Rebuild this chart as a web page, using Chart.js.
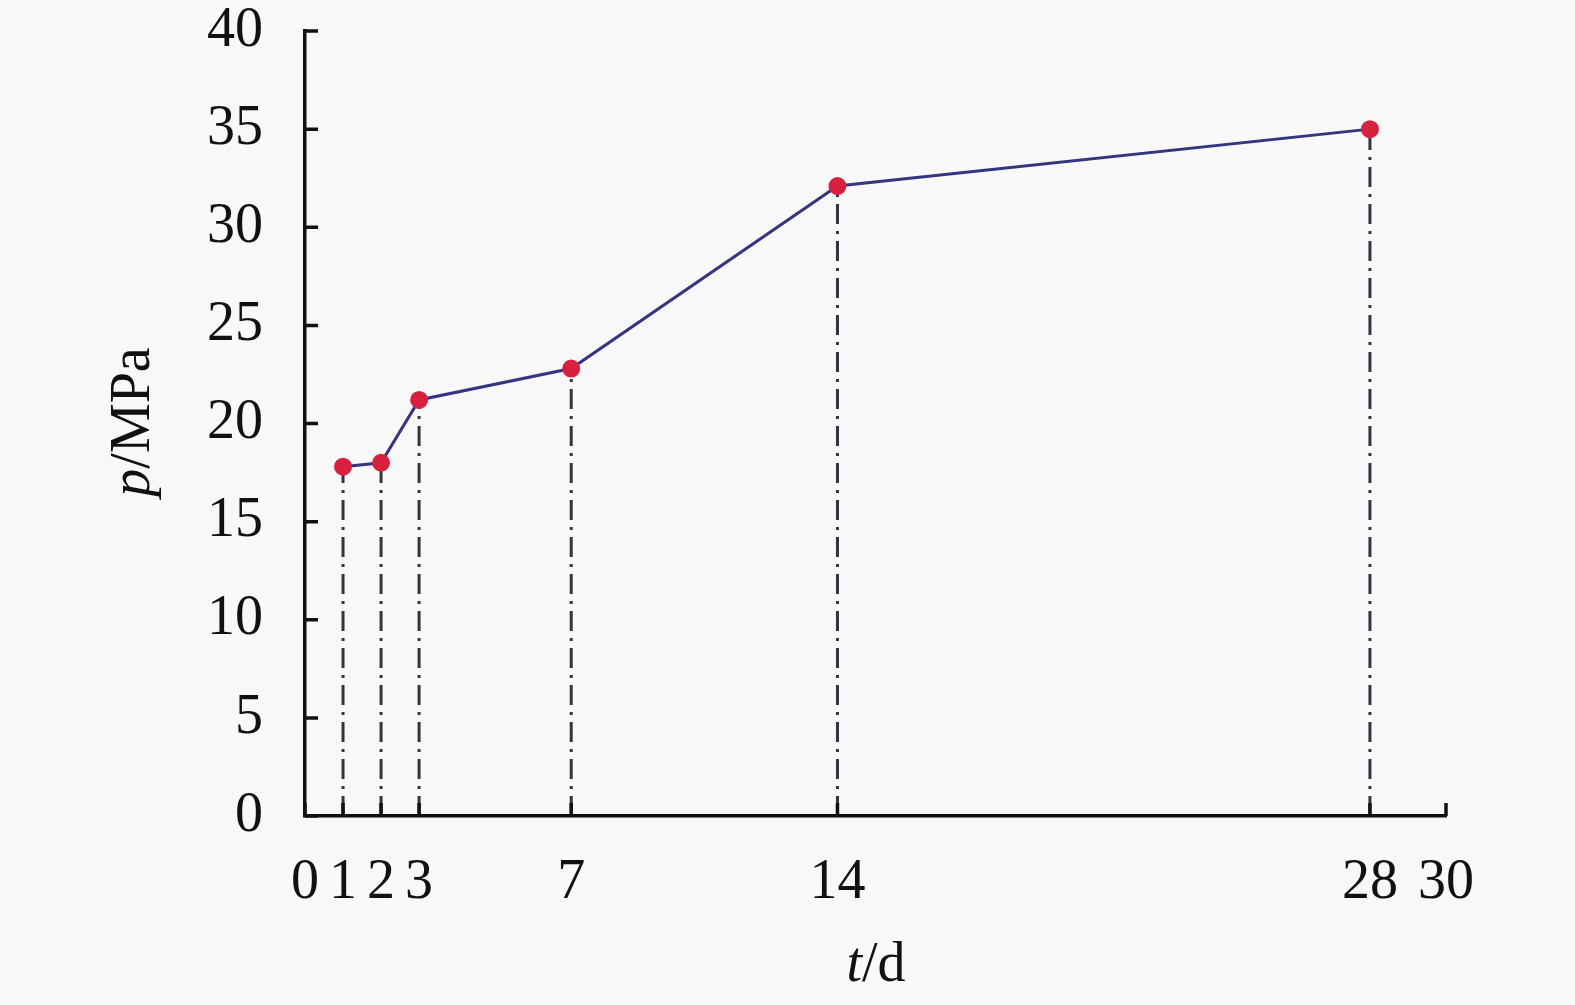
<!DOCTYPE html>
<html>
<head>
<meta charset="utf-8">
<script src="https://cdn.jsdelivr.net/npm/chart.js@4.4.1/dist/chart.umd.min.js"></script>
<style>
  html, body { margin: 0; padding: 0; background: #f8f8f8; }
  #wrap { width: 1575px; height: 1005px; }
</style>
</head>
<body>
<div id="wrap"><canvas id="myChart" width="1575" height="1005"></canvas></div>
<script>
// data
const days = [1, 2, 3, 7, 14, 28];
const strength = [17.8, 18.0, 21.2, 22.8, 32.1, 35.0];
const xTicks = [0, 1, 2, 3, 7, 14, 28, 30];
const yTicks = [0, 5, 10, 15, 20, 25, 30, 35, 40];

const serif = "'Liberation Serif', 'Times New Roman', serif";

// main curve
const datasets = [{
    label: 'p',
    data: days.map((d, i) => ({ x: d, y: strength[i] })),
    showLine: true,
    borderColor: '#35347e',
    borderWidth: 3,
    pointBackgroundColor: '#d8213f',
    pointBorderColor: '#d8213f',
    pointRadius: 7.5,
    order: 0,
}];

// dash-dot drop lines down to the t axis
days.forEach((d, i) => {
    datasets.push({
        label: 'drop' + d,
        data: [{ x: d, y: 0 }, { x: d, y: strength[i] }],
        showLine: true,
        borderColor: '#34343f',
        borderWidth: 3,
        borderDash: [20, 7, 3, 7],
        pointRadius: 0,
        order: 1,
    });
});

// inward ticks and axis titles
const axisExtras = {
    id: 'axisExtras',
    afterDraw(chart) {
        const c = chart.ctx;
        const xs = chart.scales.x, ys = chart.scales.y;
        const x0 = xs.getPixelForValue(0), y0 = ys.getPixelForValue(0);
        c.save();
        c.strokeStyle = '#111';
        c.lineWidth = 3.5;
        c.beginPath();
        yTicks.forEach(v => {
            const y = ys.getPixelForValue(v);
            c.moveTo(x0, y);
            c.lineTo(x0 + 13, y);
        });
        xTicks.forEach(v => {
            const x = xs.getPixelForValue(v);
            c.moveTo(x, y0);
            c.lineTo(x, y0 - 13);
        });
        c.stroke();

        c.fillStyle = '#111';
        c.textBaseline = 'middle';
        // x title: t/d
        c.font = 'italic 56px ' + serif;
        const tw = c.measureText('t').width;
        c.font = '56px ' + serif;
        const dw = c.measureText('/d').width;
        let sx = 876 - (tw + dw) / 2;
        c.font = 'italic 56px ' + serif;
        c.fillText('t', sx, 966);
        c.font = '56px ' + serif;
        c.fillText('/d', sx + tw, 966);

        // y title: p/MPa rotated
        c.translate(134, 422);
        c.rotate(-Math.PI / 2);
        c.font = 'italic 56px ' + serif;
        const pw = c.measureText('p').width;
        c.font = '56px ' + serif;
        const mw = c.measureText('/MPa').width;
        sx = -(pw + mw) / 2;
        c.font = 'italic 56px ' + serif;
        c.fillText('p', sx, 0);
        c.font = '56px ' + serif;
        c.fillText('/MPa', sx + pw, 0);
        c.restore();
    }
};

const config = {
    type: 'scatter',
    data: { datasets: datasets },
    options: {
        responsive: false,
        animation: false,
        layout: { padding: { top: 31, right: 129, left: 0, bottom: 0 } },
        plugins: {
            legend: { display: false },
            tooltip: { enabled: false },
        },
        scales: {
            x: {
                type: 'linear',
                min: 0,
                max: 30,
                afterBuildTicks: scale => { scale.ticks = xTicks.map(v => ({ value: v })); },
                afterFit: scale => { scale.height = 1005 - 816; scale.paddingLeft = 0; scale.paddingRight = 0; },
                grid: { display: false, drawTicks: false },
                border: { display: true, color: '#111', width: 3.5 },
                ticks: {
                    color: '#111',
                    font: { family: serif, size: 56 },
                    padding: 34,
                    maxRotation: 0,
                    autoSkip: false,
                },
            },
            y: {
                min: 0,
                max: 40,
                afterBuildTicks: scale => { scale.ticks = yTicks.map(v => ({ value: v })); },
                afterFit: scale => { scale.width = 305; scale.paddingTop = 0; scale.paddingBottom = 0; },
                grid: { display: false, drawTicks: false },
                border: { display: true, color: '#111', width: 3.5 },
                ticks: {
                    color: '#111',
                    font: { family: serif, size: 56 },
                    padding: 42,
                },
            },
        },
    },
    plugins: [axisExtras],
};

const ctx = document.getElementById('myChart').getContext('2d');
const myChart = new Chart(ctx, config);
</script>
</body>
</html>
